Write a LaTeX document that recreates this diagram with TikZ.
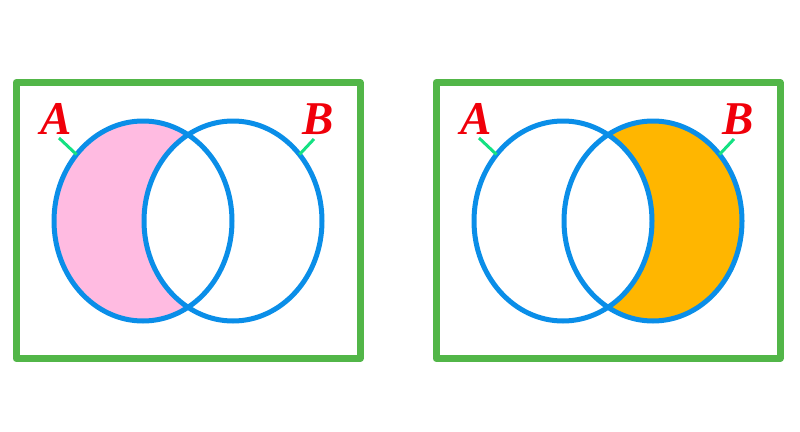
\documentclass[tikz,border=0pt]{standalone}
\usepackage{fontspec}
\setmainfont{Liberation Serif}
\usetikzlibrary{shapes.geometric}
\definecolor{frameg}{RGB}{82,182,72}
\definecolor{vennblue}{RGB}{10,142,232}
\definecolor{pinkf}{RGB}{255,187,225}
\definecolor{orangef}{RGB}{255,182,0}
\definecolor{conng}{RGB}{20,225,130}
\definecolor{labred}{RGB}{240,0,10}
\tikzset{
  frame/.style={draw=frameg, line width=7pt, line join=round},
  venn/.style={ellipse, draw=vennblue, line width=5pt, minimum width=178pt, minimum height=200pt, inner sep=0pt, outer sep=0pt},
  lab/.style={text=labred, font=\fontsize{47}{47}\selectfont\bfseries\itshape, inner sep=0pt, anchor=base},
  conn/.style={draw=conng, line width=3pt}
}
\begin{document}
\begin{tikzpicture}[x=1pt,y=-1pt]
\useasboundingbox (0,0) rectangle (800,431);
% left panel
\node[frame, minimum width=344pt, minimum height=276pt, inner sep=0pt, outer sep=0pt] (F1) at (188,220.5) {};
\fill[pinkf] (143,221) ellipse [x radius=89, y radius=100];
\fill[white] (233,221) ellipse [x radius=89, y radius=100];
\node[venn] (A1) at (143,221) {};
\node[venn] (B1) at (233,221) {};
\node[lab] (LA1) at (56,134) {A};
\node[lab] (LB1) at (318,134) {B};
\coordinate (ca1) at (59,138);
\coordinate (cb1) at (314,139);
\draw[conn] (ca1) -- (A1.135);
\draw[conn] (cb1) -- (B1.45);
% right panel
\node[frame, minimum width=344pt, minimum height=276pt, inner sep=0pt, outer sep=0pt] (F2) at (608,220.5) {};
\fill[orangef] (653,221) ellipse [x radius=89, y radius=100];
\fill[white] (563,221) ellipse [x radius=89, y radius=100];
\node[venn] (A2) at (563,221) {};
\node[venn] (B2) at (653,221) {};
\node[lab] (LA2) at (476,134) {A};
\node[lab] (LB2) at (738,134) {B};
\coordinate (ca2) at (479,138);
\coordinate (cb2) at (734,139);
\draw[conn] (ca2) -- (A2.135);
\draw[conn] (cb2) -- (B2.45);
\end{tikzpicture}
\end{document}
